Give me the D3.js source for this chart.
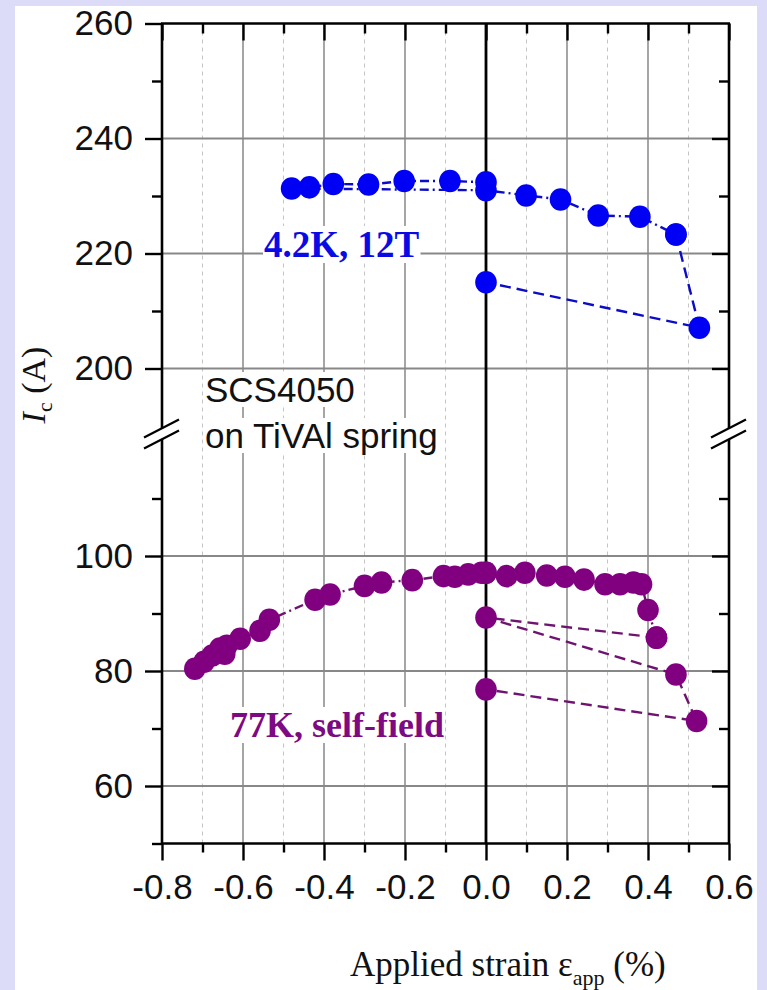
<!DOCTYPE html>
<html>
<head>
<meta charset="utf-8">
<script src="https://cdn.jsdelivr.net/npm/d3@7"></script>
<style>
  body { margin: 0; background: #dcdcf8; }
  svg { display: block; }
</style>
</head>
<body>
<svg id="chart" width="767" height="990"></svg>
<script>
'use strict';

// ---- data ----
const majorX = [-0.8, -0.6, -0.4, -0.2, 0.0, 0.2, 0.4, 0.6];
const minorX = [-0.7, -0.5, -0.3, -0.1, 0.1, 0.3, 0.5];
const upperMajorY = [260, 240, 220, 200];
const upperMinorY = [250, 230, 210];
const lowerMajorY = [100, 80, 60];
const lowerMinorY = [110, 90, 70, 50];

// 4.2 K, 12 T
const blueStrainCompress = [0, -0.089, -0.202, -0.29, -0.377, -0.436, -0.48];
const blueIcCompress     = [232.4, 232.6, 232.6, 232.0, 232.1, 231.5, 231.3];
const blueStrainTension  = [0, 0.099, 0.184, 0.277, 0.38, 0.469];
const blueIcTension      = [231.0, 230.1, 229.4, 226.6, 226.4, 223.3];
const blueStrainUnload   = [0.469, 0.527, 0];
const blueIcUnload       = [223.3, 207.1, 215.0];

// 77 K, self-field
const purpleStrainCompress = [0, -0.011, -0.044, -0.077, -0.105, -0.182, -0.258, -0.30, -0.385, -0.422,
                              -0.535, -0.558, -0.607, -0.645, -0.64, -0.657, -0.676, -0.696, -0.719];
const purpleIcCompress     = [97.1, 97.1, 96.8, 96.4, 96.5, 95.8, 95.4, 94.8, 93.3, 92.4,
                              88.9, 87.0, 85.6, 83.0, 84.4, 83.9, 82.7, 81.6, 80.4];
const purpleStrainTension  = [0, 0.051, 0.096, 0.15, 0.195, 0.242, 0.294, 0.331, 0.364, 0.384, 0.40, 0.421];
const purpleIcTension      = [97.1, 96.5, 97.1, 96.6, 96.4, 95.9, 95.1, 95.1, 95.4, 95.1, 90.6, 85.8];
const purpleStrainUnload   = [0.421, 0, 0.469, 0.52, 0];
const purpleIcUnload       = [85.8, 89.3, 79.4, 71.3, 76.8];

const upperMin = 189.6;  // bottom of upper panel
const lowerMax = 120.3;  // top of lower panel

const zip = (xs, ys) => xs.map((x, i) => ({x: x, y: ys[i]}));

// ---- scales ----
const svg = d3.select('#chart');
const x = d3.scaleLinear().domain([-0.8, 0.6]).range([162, 729]);
const yU = d3.scaleLinear().domain([200, 260]).range([368.5, 23.5]);
const yL = d3.scaleLinear().domain([50, 100]).range([843.5, 556]);
const y = v => v >= 150 ? yU(v) : yL(v);

const xLeft = x(-0.8), xRight = x(0.6);
const yTop = yU(260), yBottom = yL(50);
const breakU = yU(upperMin), breakL = yL(lowerMax);

svg.append('rect').attr('x', 15).attr('y', 6).attr('width', 742).attr('height', 990)
   .attr('fill', '#ffffff');

// ---- grid ----
const grid = svg.append('g');
grid.selectAll('.minor').data(minorX).join('line')
    .attr('x1', d => x(d)).attr('x2', d => x(d)).attr('y1', yTop).attr('y2', yBottom)
    .attr('stroke', '#c4c4c4').attr('stroke-width', 1).attr('stroke-dasharray', '4,4');
grid.selectAll('.major').data(majorX.filter(d => d !== 0 && d > -0.8 && d < 0.6)).join('line')
    .attr('x1', d => x(d)).attr('x2', d => x(d)).attr('y1', yTop).attr('y2', yBottom)
    .attr('stroke', '#969696').attr('stroke-width', 1.7);
const hGrid = upperMajorY.filter(d => d < 260).map(yU).concat(lowerMajorY.map(yL));
grid.selectAll('.h').data(hGrid).join('line')
    .attr('x1', xLeft).attr('x2', xRight).attr('y1', d => d).attr('y2', d => d)
    .attr('stroke', '#888888').attr('stroke-width', 2.2);

// ---- annotation text with white boxes (hide grid behind) ----
const notes = svg.append('g');
function note(tx, ty, str, font, size, weight, color) {
  const g = notes.append('g');
  const t = g.append('text').attr('x', tx).attr('y', ty)
    .attr('font-family', font).attr('font-size', size).attr('font-weight', weight)
    .attr('fill', color).text(str);
  const b = t.node().getBBox();
  g.insert('rect', 'text').attr('x', b.x - 1).attr('y', b.y + 2)
    .attr('width', b.width + 2).attr('height', b.height - 4).attr('fill', '#ffffff');
  return t;
}

// zero line
svg.append('line').attr('x1', x(0)).attr('x2', x(0)).attr('y1', yTop).attr('y2', yBottom)
   .attr('stroke', '#000').attr('stroke-width', 2.8);

note(205, 402, 'SCS4050', 'Liberation Sans, Arial, sans-serif', 35, 'normal', '#111');
note(205, 448, 'on TiVAl spring', 'Liberation Sans, Arial, sans-serif', 35, 'normal', '#111');
note(264, 257, '4.2K, 12T', 'Liberation Serif, Times New Roman, serif', 37, 'bold', '#0a0ae6');
note(230, 737, '77K, self-field', 'Liberation Serif, Times New Roman, serif', 36, 'bold', '#7d0a82');

// ---- series ----
const line = d3.line().x(d => x(d.x)).y(d => y(d.y));
const series = [
  {pts: zip(blueStrainCompress, blueIcCompress).concat(zip(blueStrainTension, blueIcTension)),
   color: '#0c0cc8', dash: '9,4,2,4'},
  {pts: zip(blueStrainUnload, blueIcUnload), color: '#0c0cc8', dash: '11,6'},
  {pts: zip(purpleStrainCompress.slice().reverse(), purpleIcCompress.slice().reverse())
          .concat(zip(purpleStrainTension, purpleIcTension)),
   color: '#6e1470', dash: '9,4,2,4'},
  {pts: zip(purpleStrainUnload, purpleIcUnload), color: '#6e1470', dash: '11,6'}
];
svg.append('g').selectAll('path').data(series).join('path')
   .attr('d', d => line(d.pts)).attr('fill', 'none')
   .attr('stroke', d => d.color).attr('stroke-width', 2.4)
   .attr('stroke-dasharray', d => d.dash);

const markers = [
  {pts: zip(blueStrainCompress, blueIcCompress).concat(zip(blueStrainTension, blueIcTension),
         zip(blueStrainUnload, blueIcUnload)), color: '#0000f5'},
  {pts: zip(purpleStrainCompress, purpleIcCompress).concat(zip(purpleStrainTension, purpleIcTension),
         zip(purpleStrainUnload, purpleIcUnload)), color: '#800080'}
];
markers.forEach(m => {
  svg.append('g').selectAll('ellipse').data(m.pts).join('ellipse')
     .attr('cx', d => x(d.x)).attr('cy', d => y(d.y)).attr('rx', 10.8).attr('ry', 11.3)
     .attr('fill', m.color);
});

// ---- axes ----
const sans = 'Liberation Sans, Arial, sans-serif';
function styleAxis(g) {
  g.select('.domain').remove();
  g.selectAll('.tick line').attr('stroke', '#000').attr('stroke-width', 2.4);
  g.selectAll('.tick text').attr('font-family', sans).attr('font-size', 35).attr('fill', '#111');
}
const fmt = d => d.toFixed(1);
svg.append('g').attr('transform', `translate(0,${yBottom})`)
   .call(d3.axisBottom(x).tickValues(majorX).tickSize(17).tickPadding(14).tickFormat(fmt)).call(styleAxis);
svg.append('g').attr('transform', `translate(0,${yBottom})`)
   .call(d3.axisBottom(x).tickValues(minorX).tickSize(9).tickFormat('')).call(styleAxis);
svg.append('g').attr('transform', `translate(0,${yTop})`)
   .call(d3.axisBottom(x).tickValues(majorX).tickSize(17).tickFormat('')).call(styleAxis);
svg.append('g').attr('transform', `translate(0,${yTop})`)
   .call(d3.axisBottom(x).tickValues(minorX).tickSize(10).tickFormat('')).call(styleAxis);

[[yU, upperMajorY, upperMinorY], [yL, lowerMajorY, lowerMinorY]].forEach(([sc, maj, min]) => {
  svg.append('g').attr('transform', `translate(${xLeft},0)`)
     .call(d3.axisLeft(sc).tickValues(maj).tickSize(17).tickPadding(12).tickFormat(d3.format('d'))).call(styleAxis);
  svg.append('g').attr('transform', `translate(${xLeft},0)`)
     .call(d3.axisLeft(sc).tickValues(min).tickSize(10).tickFormat('')).call(styleAxis);
  svg.append('g').attr('transform', `translate(${xRight},0)`)
     .call(d3.axisRight(sc).tickValues(maj.filter(d => d !== 260)).tickSize(-17).tickFormat('')).call(styleAxis);
  svg.append('g').attr('transform', `translate(${xRight},0)`)
     .call(d3.axisRight(sc).tickValues(min.filter(d => d !== 50)).tickSize(-10).tickFormat('')).call(styleAxis);
});

// frame with broken vertical axes
const frame = svg.append('g').attr('stroke', '#000').attr('stroke-width', 2.6).attr('fill', 'none');
frame.append('line').attr('x1', xLeft - 1).attr('x2', xRight + 1).attr('y1', yTop).attr('y2', yTop);
frame.append('line').attr('x1', xLeft - 1).attr('x2', xRight + 1).attr('y1', yBottom).attr('y2', yBottom);
[xLeft, xRight].forEach(ax => {
  frame.append('line').attr('x1', ax).attr('x2', ax).attr('y1', yTop).attr('y2', breakU);
  frame.append('line').attr('x1', ax).attr('x2', ax).attr('y1', breakL).attr('y2', yBottom);
  [breakU, breakL].forEach(by => {
    frame.append('line').attr('x1', ax - 18).attr('y1', by + 9.3)
         .attr('x2', ax + 17).attr('y2', by - 8.7).attr('stroke-width', 2.2);
  });
});

// ---- axis titles ----
const xt = svg.append('text').attr('x', 350).attr('y', 976)
   .attr('font-family', 'Liberation Serif, Times New Roman, serif').attr('font-size', 35).attr('fill', '#111');
xt.append('tspan').text('Applied strain \u03b5');
xt.append('tspan').attr('font-size', 22).attr('dy', 9).text('app');
xt.append('tspan').attr('dy', -9).text(' (%)');

const yt = svg.append('text').attr('transform', 'translate(45,385) rotate(-90)')
   .attr('text-anchor', 'middle')
   .attr('font-family', 'Liberation Serif, Times New Roman, serif').attr('font-size', 34).attr('fill', '#111');
yt.append('tspan').attr('font-style', 'italic').text('I');
yt.append('tspan').attr('font-size', 22).attr('dy', 7).text('c');
yt.append('tspan').attr('dy', -7).text(' (A)');
</script>
</body>
</html>
